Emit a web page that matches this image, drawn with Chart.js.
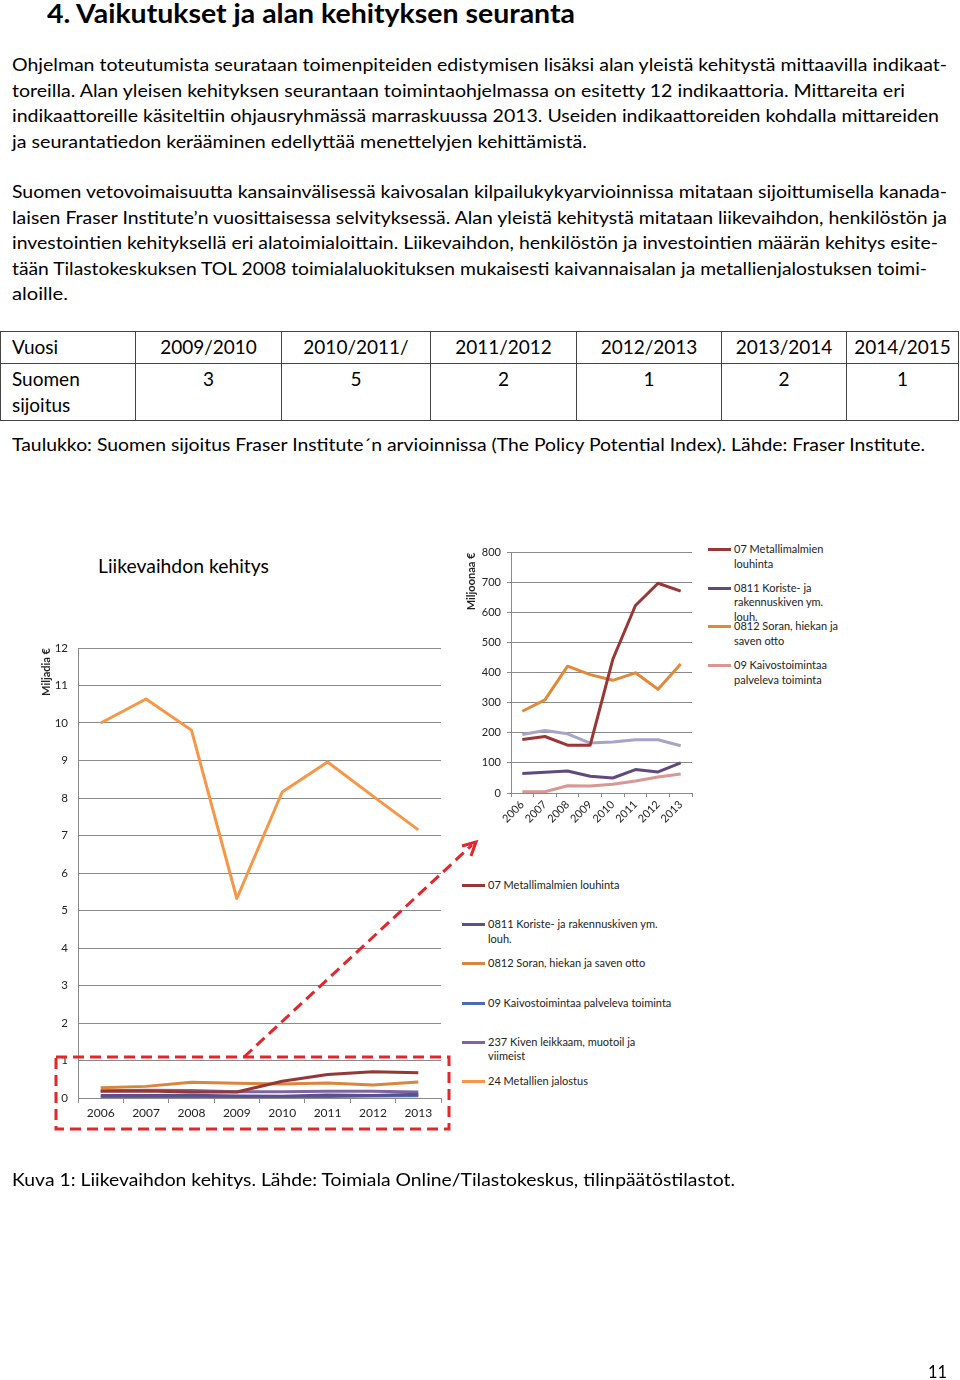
<!DOCTYPE html>
<html lang="fi">
<head>
<meta charset="utf-8">
<title>Liikevaihdon kehitys</title>
<script src="https://cdn.jsdelivr.net/npm/chart.js@4.4.1/dist/chart.umd.min.js"></script>
<style>
  body { margin: 0; width: 960px; height: 1380px; position: relative; overflow: hidden;
         background: #fff; color: #000; font-family: Lato, "Open Sans", sans-serif; }
  .t { position: absolute; left: 12px; white-space: nowrap; font-size: 18px; line-height: 26px; }
  .t span { display: inline-block; transform-origin: 0 50%; }
  h1.t { margin: 0; left: 47px; top: -2px; font-size: 27px; line-height: 30px; font-weight: bold; }
  table { position: absolute; left: 0; top: 331px; border-collapse: collapse; table-layout: fixed;
          font-size: 19px; line-height: 26px; }
  td { border: 1.5px solid #444; padding: 2px 0 0 0; text-align: center; vertical-align: top; }
  td.h { text-align: left; padding-left: 11px; }
  tr.r1 td { height: 29px; }
  tr.r2 td { height: 54px; }
  canvas { position: absolute; }
  .leg { position: absolute; font-size: 11px; line-height: 14.5px; color: #222; }
  .leg div { position: absolute; left: 0; }
  .leg i { position: absolute; left: 0; top: 6px; width: 23px; height: 3px; }
  .leg b { position: absolute; font-weight: normal; white-space: normal; }
  svg { position: absolute; left: 0; top: 0; }
</style>
</head>
<body>

<h1 class="t" data-w="528"><span>4. Vaikutukset ja alan kehityksen seuranta</span></h1>

<div class="t" style="top:51px" data-w="935"><span>Ohjelman toteutumista seurataan toimenpiteiden edistymisen lisäksi alan yleistä kehitystä mittaavilla indikaat-</span></div>
<div class="t" style="top:77px" data-w="893"><span>toreilla. Alan yleisen kehityksen seurantaan toimintaohjelmassa on esitetty 12 indikaattoria. Mittareita eri</span></div>
<div class="t" style="top:102px" data-w="927"><span>indikaattoreille käsiteltiin ohjausryhmässä marraskuussa 2013. Useiden indikaattoreiden kohdalla mittareiden</span></div>
<div class="t" style="top:128px" data-w="575"><span>ja seurantatiedon kerääminen edellyttää menettelyjen kehittämistä.</span></div>

<div class="t" style="top:178px" data-w="935"><span>Suomen vetovoimaisuutta kansainvälisessä kaivosalan kilpailukykyarvioinnissa mitataan sijoittumisella kanada-</span></div>
<div class="t" style="top:204px" data-w="935"><span>laisen Fraser Institute’n vuosittaisessa selvityksessä. Alan yleistä kehitystä mitataan liikevaihdon, henkilöstön ja</span></div>
<div class="t" style="top:229px" data-w="926"><span>investointien kehityksellä eri alatoimialoittain. Liikevaihdon, henkilöstön ja investointien määrän kehitys esite-</span></div>
<div class="t" style="top:255px" data-w="915"><span>tään Tilastokeskuksen TOL 2008 toimialaluokituksen mukaisesti kaivannaisalan ja metallienjalostuksen toimi-</span></div>
<div class="t" style="top:280px" data-w="56"><span>aloille.</span></div>

<table>
  <colgroup>
    <col style="width:135px"><col style="width:146px"><col style="width:149px"><col style="width:146px">
    <col style="width:145px"><col style="width:125px"><col style="width:112px">
  </colgroup>
  <tr class="r1" id="rankYears"><td class="h">Vuosi</td></tr>
  <tr class="r2" id="rankValues"><td class="h">Suomen<br>sijoitus</td></tr>
</table>

<div class="t" style="top:431px" data-w="913"><span>Taulukko: Suomen sijoitus Fraser Institute´n arvioinnissa (The Policy Potential Index). Lähde: Fraser Institute.</span></div>

<div class="t" style="left:98px; top:552px; font-size:19px; line-height:28px" data-w="171"><span>Liikevaihdon kehitys</span></div>

<canvas id="main" width="420" height="500" style="left:30px; top:630px"></canvas>
<canvas id="inset" width="240" height="300" style="left:460px; top:540px"></canvas>

<div class="leg" id="mainLegend" style="left:462px; top:878px"></div>
<div class="leg" id="insetLegend" style="left:708px; top:542px"></div>

<svg width="960" height="1380">
  <g fill="none" stroke="#e3262b" stroke-width="3">
    <rect x="56" y="1057" width="393" height="72" stroke-dasharray="11 6"/>
    <line x1="244" y1="1057" x2="472" y2="845" stroke-dasharray="11 6"/>
    <polyline points="462,846 476,842 471,856" stroke-linejoin="miter"/>
  </g>
</svg>

<div class="t" style="top:1166px" data-w="723"><span>Kuva 1: Liikevaihdon kehitys. Lähde: Toimiala Online/Tilastokeskus, tilinpäätöstilastot.</span></div>
<div class="t" style="left:928px; top:1358px" data-w="19"><span>11</span></div>

<script>
// Fraser Institute sijoitus
var rankYears = ['2009/2010', '2010/2011/', '2011/2012', '2012/2013', '2013/2014', '2014/2015'];
var rankValues = [3, 5, 2, 1, 2, 1];

// liikevaihto
var years = ['2006', '2007', '2008', '2009', '2010', '2011', '2012', '2013'];
var names = ['07 Metallimalmien louhinta', '0811 Koriste- ja rakennuskiven ym. louh.',
             '0812 Soran, hiekan ja saven otto', '09 Kaivostoimintaa palveleva toiminta',
             '237 Kiven leikkaam, muotoil ja viimeist', '24 Metallien jalostus'];
// miljoonaa euroa (pieni kuva)
var metallimalmit = [178, 188, 159, 159, 445, 624, 698, 672];
var koristekivi = [65, 69, 73, 56, 50, 78, 70, 100];
var sora = [272, 310, 422, 394, 375, 400, 345, 429];
var kaivosPalvelu = [4, 4, 24, 23, 29, 40, 53, 63];
var kivenLeikkaus = [195, 208, 197, 166, 170, 177, 177, 157];
// miljardia euroa
var metallienJalostus = [10.0, 10.64, 9.81, 5.32, 8.16, 8.96, 8.05, 7.15];

var mainColors = ['#953735', '#5b4f8c', '#d9853b', '#4a6cb0', '#8064a2', '#f79646'];
var insetColors = ['#9a3634', '#604a7b', '#e0893a', '#d99694', '#a7a4c9'];

rankYears.forEach(function (y) {
  var td = document.createElement('td'); td.textContent = y;
  document.getElementById('rankYears').appendChild(td);
});
rankValues.forEach(function (v) {
  var td = document.createElement('td'); td.textContent = v;
  document.getElementById('rankValues').appendChild(td);
});

function fitLines() {
  document.querySelectorAll('[data-w]').forEach(function (el) {
    var s = el.firstElementChild;
    s.style.transform = 'none';
    var w = s.getBoundingClientRect().width;
    s.style.transform = 'scaleX(' + (+el.dataset.w / w) + ')';
  });
}
fitLines();
if (document.fonts) document.fonts.ready.then(fitLines);

function toBillions(arr) { return arr.map(function (v) { return v / 1000; }); }

var gray = '#8a8a8a';
var tickFont = { family: 'Lato', size: 11.5 };

function line(label, data, color) {
  return { label: label, data: data, borderColor: color, backgroundColor: color,
           borderWidth: 3, pointRadius: 0, tension: 0, borderJoinStyle: 'round' };
}

function htmlLegend(chart, id, spacing, width) {
  var box = document.getElementById(id);
  var items = chart.options.plugins.legend.labels.generateLabels(chart)
    .filter(function (it) { return !chart.data.datasets[it.datasetIndex].hideInLegend; });
  items.forEach(function (it, i) {
    var d = document.createElement('div');
    d.style.top = (i * spacing) + 'px';
    var sw = document.createElement('i');
    sw.style.background = it.strokeStyle;
    var tx = document.createElement('b');
    tx.style.left = '26px';
    tx.style.width = width + 'px';
    tx.textContent = it.text;
    d.appendChild(sw); d.appendChild(tx);
    box.appendChild(d);
  });
}

var mainChart = new Chart(document.getElementById('main'), {
  type: 'line',
  data: {
    labels: years,
    datasets: [
      line(names[0], toBillions(metallimalmit), mainColors[0]),
      line(names[1], toBillions(koristekivi), mainColors[1]),
      line(names[2], toBillions(sora), mainColors[2]),
      line(names[3], toBillions(kaivosPalvelu), mainColors[3]),
      line(names[4], toBillions(kivenLeikkaus), mainColors[4]),
      line(names[5], metallienJalostus, mainColors[5])
    ]
  },
  options: {
    responsive: false,
    devicePixelRatio: 1,
    animation: false,
    layout: { padding: { top: 18, right: 9, left: 0, bottom: 0 } },
    plugins: { legend: { display: false }, tooltip: { enabled: false } },
    scales: {
      x: {
        offset: true,
        grid: { display: true, drawOnChartArea: false, drawTicks: true, tickLength: 5, color: gray, offset: true },
        border: { color: gray },
        ticks: { font: { family: 'Lato', size: 12 }, color: '#222', padding: 3, maxRotation: 0, autoSkip: false },
        afterFit: function (s) { s.height = 32; }
      },
      y: {
        min: 0, max: 12,
        grid: { color: gray, drawTicks: false },
        border: { color: gray },
        ticks: { stepSize: 1, font: tickFont, color: '#222', padding: 10 },
        title: { display: true, text: 'Miljadia €', align: 'end', color: '#222',
                 font: { family: 'Lato', size: 11, weight: 'bold' }, padding: { top: 10, bottom: 0 } },
        afterFit: function (s) { s.width = 48; }
      }
    }
  }
});
htmlLegend(mainChart, 'mainLegend', 39.2, 186);

var insetData = [
  line(names[0], metallimalmit, insetColors[0]),
  line(names[1], koristekivi, insetColors[1]),
  line(names[2], sora, insetColors[2]),
  line(names[3], kaivosPalvelu, insetColors[3]),
  line(names[4], kivenLeikkaus, insetColors[4])
];
insetData[4].hideInLegend = true;

var insetChart = new Chart(document.getElementById('inset'), {
  type: 'line',
  data: { labels: years, datasets: insetData },
  options: {
    responsive: false,
    devicePixelRatio: 1,
    animation: false,
    layout: { padding: { top: 8, right: 8, left: 0, bottom: 0 } },
    plugins: { legend: { display: false }, tooltip: { enabled: false } },
    scales: {
      x: {
        offset: true,
        grid: { display: true, drawOnChartArea: false, drawTicks: true, tickLength: 4, color: gray, offset: true },
        border: { color: gray },
        ticks: { font: { family: 'Lato', size: 11 }, color: '#222', padding: 1, minRotation: 45, maxRotation: 45, autoSkip: false },
        afterFit: function (s) { s.height = 47; }
      },
      y: {
        min: 0, max: 800,
        grid: { color: gray, drawTicks: true, tickLength: 4 },
        border: { color: gray },
        ticks: { stepSize: 100, font: { family: 'Lato', size: 11 }, color: '#222', padding: 6 },
        title: { display: true, text: 'Miljoonaa €', align: 'end', color: '#222',
                 font: { family: 'Lato', size: 11, weight: 'bold' }, padding: { top: 5, bottom: 0 } },
        afterFit: function (s) { s.width = 51; }
      }
    }
  }
});
htmlLegend(insetChart, 'insetLegend', 38.7, 108);
</script>
</body>
</html>
